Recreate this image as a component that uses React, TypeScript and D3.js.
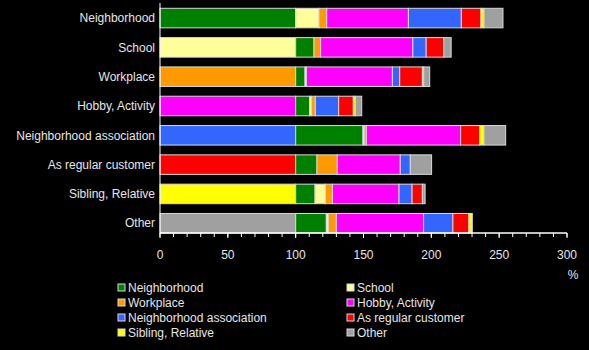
import React, { useEffect } from "react";
import * as d3 from "d3";

const categories = [
  "Neighborhood",
  "School",
  "Workplace",
  "Hobby, Activity",
  "Neighborhood association",
  "As regular customer",
  "Sibling, Relative",
  "Other",
];

const seriesNames = [
  "Neighborhood",
  "School",
  "Workplace",
  "Hobby, Activity",
  "Neighborhood association",
  "As regular customer",
  "Sibling, Relative",
  "Other",
];

const seriesColors = [
  "#008000",
  "#ffff99",
  "#ff9900",
  "#ff00ff",
  "#3366ff",
  "#ff0000",
  "#ffff00",
  "#a0a0a0",
];

// values per series, one per category (row)
const neighborhood = [100, 13.5, 6.9, 10.3, 49.6, 15.7, 14.3, 22.6];
const school = [17.2, 100, 1.0, 1.5, 1.0, 0, 7.6, 1.5];
const workplace = [5.7, 4.9, 100, 2.7, 1.5, 15.0, 5.2, 5.9];
const hobby = [60.2, 68.0, 63.4, 100, 69.5, 46.4, 49.1, 64.3];
const association = [39.0, 9.8, 5.4, 17.2, 100, 7.4, 9.6, 21.6];
const customer = [14.5, 13.0, 16.7, 10.8, 14.0, 100, 7.6, 11.8];
const sibling = [2.2, 0, 1.0, 1.5, 3.2, 0, 100, 2.5];
const other = [14.0, 5.4, 4.4, 4.7, 16.0, 15.7, 2.0, 100];

const seriesValues = [neighborhood, school, workplace, hobby, association, customer, sibling, other];

const xTicks = [0, 50, 100, 150, 200, 250, 300];
const xMinorTicks = d3.range(0, 301, 10);

const W = 589;
const H = 350;

export default function App() {
  useEffect(() => {
    document.body.style.margin = "0";
    document.body.style.background = "#000";
  }, []);

  const x = d3.scaleLinear().domain([0, 300]).range([160, 567]);
  const y = d3.scaleBand<string>().domain(categories).range([8.3, 233]).paddingInner(0.334).paddingOuter(0);

  const segs: { key: string; x0: number; x1: number; cat: string; color: string }[] = [];
  categories.forEach((cat, ci) => {
    const order = [ci, ...seriesNames.map((_, i) => i).filter((i) => i !== ci)];
    let acc = 0;
    order.forEach((si) => {
      const v = seriesValues[si][ci];
      if (v > 0) {
        segs.push({ key: cat + si, x0: acc, x1: acc + v, cat, color: seriesColors[si] });
      }
      acc += v;
    });
  });

  const font = "'Liberation Sans', Arial, sans-serif";
  const textColor = "#e6e6e6";
  const axisY = 233;

  const legendCols = [118, 347];
  const legendRows = [288, 303, 318, 333];

  return (
    <svg width={W} height={H} style={{ display: "block", background: "#000" }} fontFamily={font}>
      <rect x={0} y={0} width={W} height={H} fill="#000" />
      {segs.map((s) => (
        <rect
          key={s.key}
          x={x(s.x0)}
          y={y(s.cat)}
          width={Math.max(0, x(s.x1) - x(s.x0))}
          height={y.bandwidth()}
          fill={s.color}
          stroke="#d8d8d8"
          strokeWidth={1}
        />
      ))}
      {/* y axis */}
      <line x1={160} x2={160} y1={3} y2={axisY} stroke="#fff" strokeWidth={1} />
      {categories.map((c) => (
        <text
          key={c}
          x={155}
          y={(y(c) as number) + y.bandwidth() / 2}
          dy="0.35em"
          textAnchor="end"
          fontSize={12}
          fill={textColor}
        >
          {c}
        </text>
      ))}
      {/* x axis */}
      <line x1={160} x2={567} y1={axisY} y2={axisY} stroke="#fff" strokeWidth={1.5} />
      {xMinorTicks.map((t) => (
        <line key={"m" + t} x1={x(t)} x2={x(t)} y1={axisY} y2={axisY + 4} stroke="#fff" strokeWidth={1} />
      ))}
      {xTicks.map((t) => (
        <g key={t}>
          <line x1={x(t)} x2={x(t)} y1={axisY} y2={axisY + 5} stroke="#fff" strokeWidth={1} />
          <text x={x(t)} y={259} textAnchor="middle" fontSize={12} fill={textColor}>
            {t}
          </text>
        </g>
      ))}
      <text x={573} y={279} textAnchor="middle" fontSize={12} fill={textColor}>
        %
      </text>
      {/* legend */}
      {seriesNames.map((n, i) => {
        const lx = legendCols[i % 2];
        const ly = legendRows[Math.floor(i / 2)];
        return (
          <g key={n}>
            <rect x={lx} y={ly - 4} width={7} height={7} fill={seriesColors[i]} stroke="#d8d8d8" strokeWidth={1} />
            <text x={lx + 10} y={ly} dy="0.35em" fontSize={12} fill={textColor}>
              {n}
            </text>
          </g>
        );
      })}
    </svg>
  );
}
